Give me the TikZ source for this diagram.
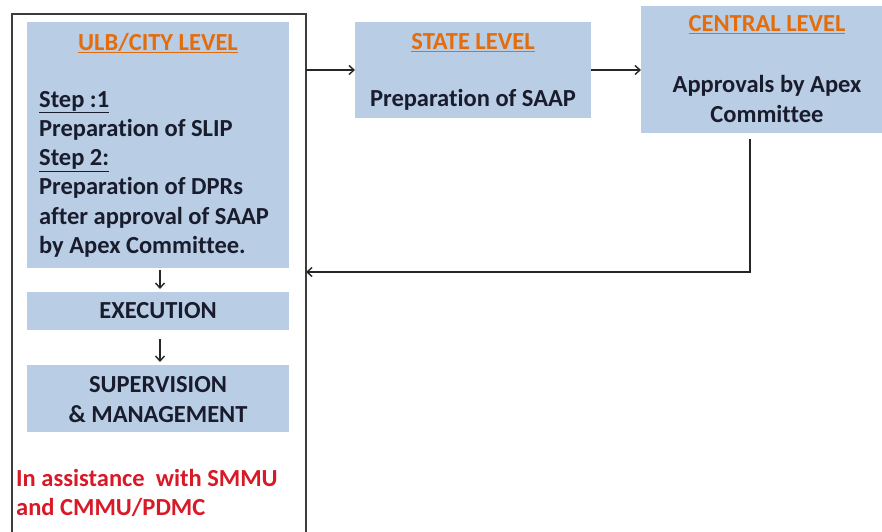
\documentclass[tikz,border=0pt]{standalone}
\usepackage{fontspec}
\setmainfont{Carlito}[Ligatures=NoCommon]
\usetikzlibrary{arrows.meta,calc}
\definecolor{boxblue}{RGB}{185,205,229}
\definecolor{titleorange}{RGB}{228,108,10}
\definecolor{txtdark}{RGB}{25,28,45}
\definecolor{redtxt}{RGB}{215,25,40}
\definecolor{framegray}{RGB}{60,60,60}
\tikzset{
  panel/.style={fill=boxblue, draw=none, inner sep=0pt, anchor=north west},
  body/.style={font=\fontsize{24.5}{29.2}\selectfont\bfseries, text=txtdark, inner sep=0pt},
  ttl/.style={font=\fontsize{24.5}{28}\selectfont\bfseries, text=titleorange, inner sep=0pt},
  arr/.style={-{Straight Barb[length=5pt,width=9pt]}, line width=1.4pt, draw=black!85},
  framel/.style={line width=1.8pt, draw=framegray},
}
\begin{document}
\begin{tikzpicture}[x=1pt,y=-1pt]
\useasboundingbox (0,0) rectangle (882,531);
\clip (0,0) rectangle (882,531);
% outer frame
\draw[framel] (12,540) -- (12,14) -- (306,14) -- (306,540);
\coordinate (frout) at (306,70);
\coordinate (frin) at (306,272);
% ULB box
\node[panel, minimum width=262pt, minimum height=246pt] (ulb) at (27,22) {};
\node[ttl] (ulbt) at (158,43) {\underline{ULB/CITY LEVEL}};
\node[body, align=left, anchor=north west] (ulbb) at (39,91) {\underline{Step :1}\\Preparation of SLIP\\\underline{Step 2:}\\Preparation of DPRs\\after approval of SAAP\\by Apex Committee.};
% execution
\node[panel, minimum width=262pt, minimum height=38pt] (exe) at (27,292) {};
\node[body] (exet) at (158,311) {EXECUTION};
% supervision
\node[panel, minimum width=262pt, minimum height=67pt] (sup) at (27,365) {};
\node[body, align=center] (supt) at (158,399.5) {SUPERVISION\\\& MANAGEMENT};
% red note
\node[font=\fontsize{24.5}{29.5}\selectfont\bfseries, text=redtxt, inner sep=0pt, align=left, anchor=north west] (note) at (16,469) {In assistance\ \ with SMMU\\and CMMU/PDMC};
% state
\node[panel, minimum width=236pt, minimum height=96pt] (state) at (355,22) {};
\node[ttl] (statet) at (473,43) {\underline{STATE LEVEL}};
\node[body] (stateb) at (473,100) {Preparation of SAAP};
% central
\node[panel, minimum width=260pt, minimum height=127pt] (central) at (641,6) {};
\node[ttl] (centralt) at (767,25) {\underline{CENTRAL LEVEL}};
\node[body, align=center] (centralb) at (767,99) {Approvals by Apex\\Committee};
% connectors
\draw[arr] (frout) -- (frout -| state.west);
\draw[arr] (frout -| state.east) -- (frout -| central.west);
\draw[arr, shorten <=6pt] ($(central.south west)+(109,0)$) |- (frin);
\draw[arr, shorten <=2pt, shorten >=3pt] (ulb.south -| 160,0) -- (exe.north -| 160,0);
\draw[arr, shorten <=9pt, shorten >=3pt] (exe.south -| 160,0) -- (sup.north -| 160,0);
\end{tikzpicture}
\end{document}
